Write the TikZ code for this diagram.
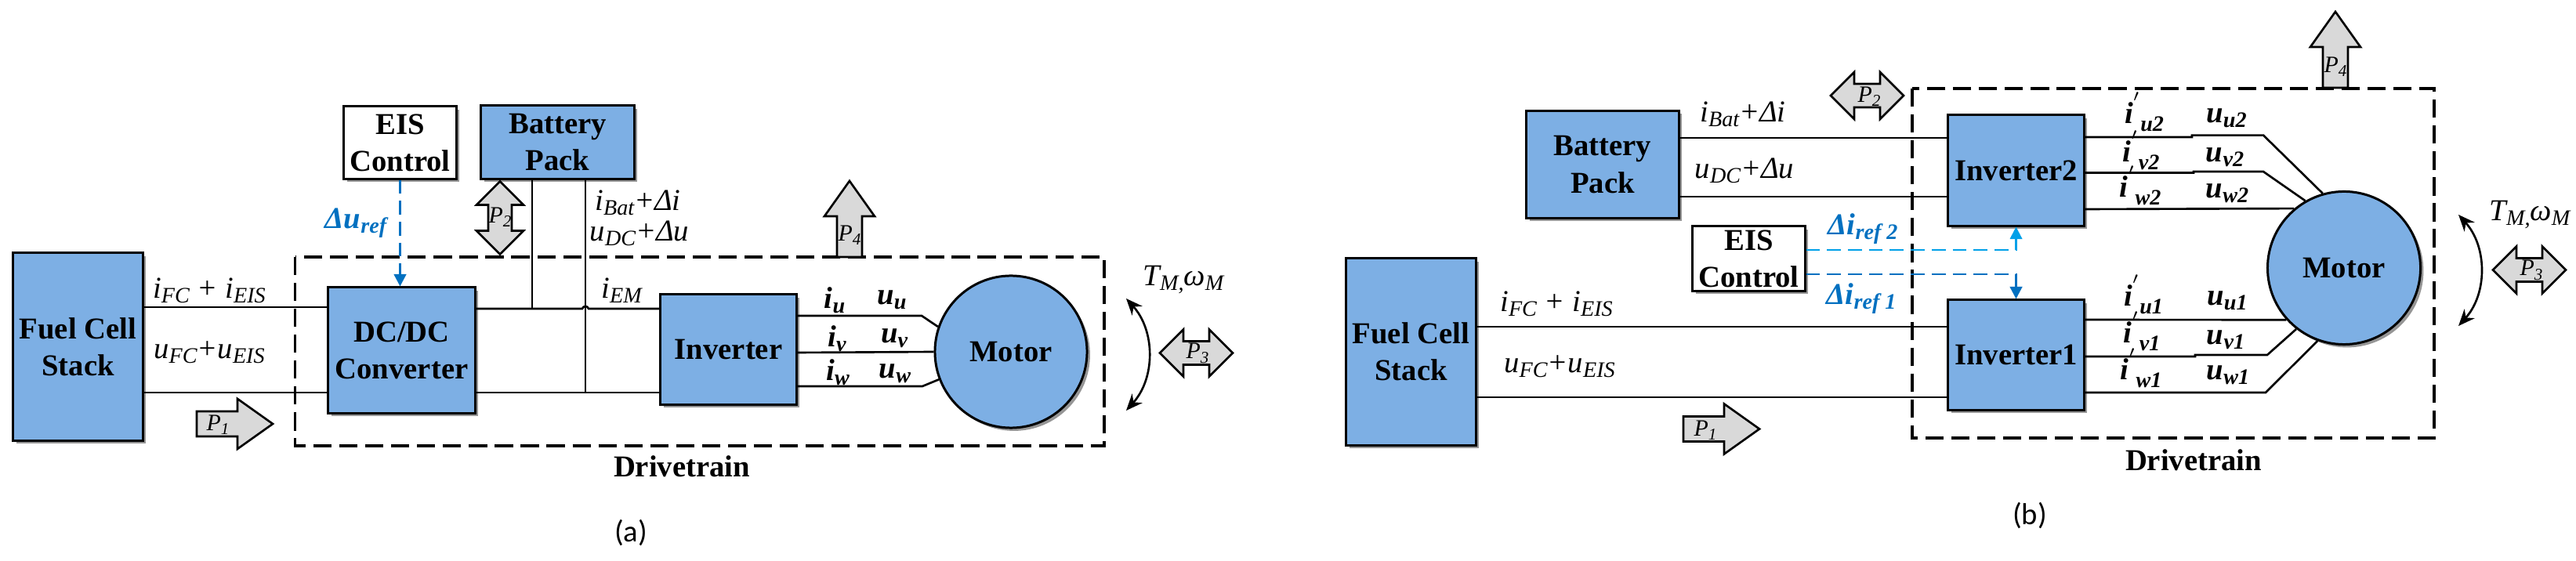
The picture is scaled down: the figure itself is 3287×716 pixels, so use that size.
\documentclass[tikz,border=0pt]{standalone}
\usepackage{fontspec}
\setmainfont{Liberation Serif}
\newfontfamily\capfont{Carlito}
\usetikzlibrary{arrows.meta,shadows}
\definecolor{blockblue}{RGB}{125,175,228}
\definecolor{refblue}{RGB}{0,112,192}
\definecolor{reflight}{RGB}{0,160,232}
\definecolor{powergray}{RGB}{217,217,217}
\newlength\taild
\newlength\flared
\newlength\shaftd
\setlength{\taild}{0.52cm}
\setlength{\flared}{0.16cm}
\setlength{\shaftd}{0.16cm}
\newcommand{\low}[1]{\raisebox{-.35ex}{\fontsize{8}{8}\selectfont #1}}
\newcommand{\plow}[1]{\raisebox{-.4ex}{\fontsize{6}{6}\selectfont #1}}
\newcommand{\iprime}[1]{\textit{i}\raisebox{1ex}{\fontsize{8}{8}\selectfont$'$}\raisebox{-.6ex}{\fontsize{8}{8}\selectfont #1}}
\newcommand{\powerarrow}[1]{
   \filldraw[powerbody]
   (O) ++(#1+90:\shaftd) --
   ++(#1:\taild) --
   ++(#1+90:\flared) --
   ++(#1-35.4:0.552cm) --
   ++(#1-144.6:0.552cm) --
   ++(#1+90:\flared) --
   ++(#1+180:\taild) -- cycle;
}
\newcommand{\powerdouble}[1]{
   \filldraw[powerbody]
   (O) ++(#1+90:0.15cm) ++(#1:0.165cm) --
   ++(#1+90:0.15cm) --
   ++(#1-45:0.424cm) --
   ++(#1-135:0.424cm) --
   ++(#1+90:0.15cm) --
   ++(#1+180:0.33cm) --
   ++(#1-90:0.15cm) --
   ++(#1+135:0.424cm) --
   ++(#1+45:0.424cm) --
   ++(#1-90:0.15cm) -- cycle;
}
\tikzset{
  boxshadow/.style={drop shadow={shadow xshift=1.1pt,shadow yshift=-1.1pt,fill=black!55,opacity=.75}},
  block/.style={draw,line width=.85pt,fill=blockblue,boxshadow,align=center,inner sep=0pt,
    font=\fontsize{11}{13.4}\bfseries\selectfont},
  eisbox/.style={block,fill=white},
  wire/.style={line width=.75pt},
  sigtext/.style={inner sep=0pt,font=\fontsize{11}{13}\itshape\selectfont},
  sigbold/.style={sigtext,font=\fontsize{11}{13}\bfseries\itshape\selectfont},
  reftext/.style={sigbold,text=refblue},
  plabel/.style={inner sep=0pt,font=\fontsize{8.5}{10}\itshape\selectfont},
  boldlabel/.style={inner sep=0pt,font=\fontsize{11}{13}\bfseries\selectfont},
  caplabel/.style={inner sep=0pt,font=\fontsize{11}{13}\capfont\selectfont},
  powerbody/.style={draw,line width=.75pt,fill=powergray},
  drivebox/.style={draw,line width=.9pt,dash pattern=on 6.6pt off 2.8pt},
  refwire/.style={line width=.8pt,dash pattern=on 5pt off 2.6pt,-{Triangle[length=4.4pt,width=4.4pt]}},
  torque/.style={line width=.75pt,{Stealth[length=6pt,width=5pt]}-{Stealth[length=6pt,width=5pt]}}
}
\begin{document}
\begin{tikzpicture}[x=0.01cm,y=-0.01cm]
  \useasboundingbox (0,0) rectangle (3287,716);
  %Panel (a): the dashed box goes first so that the wires cross over it
  \draw[drivebox] (376.5,328) rectangle (1409,569);
  \node[block,minimum width=1.65cm,minimum height=2.39cm] (fca) at (99.5,442.5) {Fuel Cell\\Stack};
  \node[eisbox,minimum width=1.43cm,minimum height=0.92cm] (eisa) at (510.5,182) {EIS\\Control};
  \node[block,minimum width=1.95cm,minimum height=0.93cm] (bata) at (711.5,181.5) {Battery\\Pack};
  \node[block,minimum width=1.87cm,minimum height=1.60cm] (dca) at (512.5,447) {DC/DC\\Converter};
  \node[block,minimum width=1.73cm,minimum height=1.40cm] (inva) at (929.5,446) {Inverter};
  \node[block,circle,minimum size=1.94cm] (mota) at (1290,449) {Motor};
  \coordinate (ya1) at (0,392);
  \coordinate (ya2) at (0,394);
  \coordinate (ya3) at (0,501);
  \coordinate (xa1) at (679,0);
  \coordinate (xa2) at (747,0);
  \draw[wire] (fca.east |- ya1) -- (dca.west |- ya1);
  \draw[wire] (fca.east |- ya3) -- (dca.west |- ya3);
  \draw[wire] (dca.east |- ya2) -- (743,394) .. controls (744,390) and (750,390) .. (751,394) -- (inva.west |- ya2);
  \draw[wire] (dca.east |- ya3) -- (inva.west |- ya3);
  \draw[wire] (bata.south -| xa1) -- (xa1 |- ya2);
  \draw[wire] (bata.south -| xa2) -- (xa2 |- ya3);
  \draw[refwire,refblue] (eisa.south) -- (eisa.south |- dca.north);
  \draw[wire] (inva.east |- 0,403) -- (1176,403) -- (mota.161);
  \draw[wire] (inva.east |- 0,450) -- (mota.180);
  \draw[wire] (inva.east |- 0,493) -- (1177,493) -- (mota.201);
  \coordinate (torqa1) at (1437,381);
  \coordinate (torqa2) at (1437,524);
  \draw[torque] (torqa1) to[bend left=42] (torqa2);
  %Power arrows of panel (a)
  \coordinate (O) at (251,541); \powerarrow{0}
  \coordinate (O) at (1084,328); \powerarrow{90}
  \coordinate (O) at (638,278); \powerdouble{90}
  \coordinate (O) at (1526.5,450.5); \powerdouble{0}
  \node[plabel] (p1a) at (278,542) {P\plow{1}};
  \node[plabel] (p2a) at (638,277) {P\plow{2}};
  \node[plabel] (p3a) at (1528,451) {P\plow{3}};
  \node[plabel] (p4a) at (1084,300) {P\plow{4}};
  %Signals of panel (a)
  \node[reftext] (refa) at (454,285) {Δu\low{ref}};
  \node[sigtext] (ifca) at (267,371) {i\low{FC} + i\low{EIS}};
  \node[sigtext] (ufca) at (267,450) {u\low{FC}+u\low{EIS}};
  \node[sigtext] (ibata) at (814,259) {i\low{Bat}+Δi};
  \node[sigtext] (udca) at (816,298) {u\low{DC}+Δu};
  \node[sigtext] (iema) at (793,371) {i\low{EM}};
  \node[sigbold] (iua) at (1065,383) {i\low{u}};
  \node[sigbold] (uua) at (1138,383) {u\low{u}};
  \node[sigbold] (iva) at (1068,432) {i\low{v}};
  \node[sigbold] (uva) at (1141,432) {u\low{v}};
  \node[sigbold] (iwa) at (1069,475) {i\low{w}};
  \node[sigbold] (uwa) at (1142,477) {u\low{w}};
  \node[sigtext] (tma) at (1510,357) {T\low{M,}ω\low{M}};
  \node[boldlabel] (dta) at (870,595) {Drivetrain};
  \node[caplabel] (capa) at (805,680) {(a)};

  %Panel (b)
  \draw[drivebox] (2440,113) rectangle (3106,559);
  \node[block,minimum width=1.65cm,minimum height=2.38cm] (fcb) at (1800.5,449) {Fuel Cell\\Stack};
  \node[block,minimum width=1.94cm,minimum height=1.37cm] (batb) at (2045,210) {Battery\\Pack};
  \node[eisbox,minimum width=1.43cm,minimum height=0.82cm] (eisb) at (2231.5,330) {EIS\\Control};
  \node[block,minimum width=1.73cm,minimum height=1.41cm] (inv2) at (2572.5,217.5) {Inverter2};
  \node[block,minimum width=1.73cm,minimum height=1.40cm] (inv1) at (2572.5,453) {Inverter1};
  \node[block,circle,minimum size=1.95cm] (motb) at (2991,342) {Motor};
  \coordinate (yb1) at (0,176);
  \coordinate (yb2) at (0,251);
  \coordinate (yb3) at (0,417);
  \coordinate (yb4) at (0,507);
  \draw[wire] (batb.east |- yb1) -- (inv2.west |- yb1);
  \draw[wire] (batb.east |- yb2) -- (inv2.west |- yb2);
  \draw[wire] (fcb.east |- yb3) -- (inv1.west |- yb3);
  \draw[wire] (fcb.east |- yb4) -- (inv1.west |- yb4);
  \draw[refwire,reflight,line width=.6pt] (eisb.east |- 0,319) -- (inv2.south |- 0,319) -- (inv2.south);
  \draw[refwire,refblue] (eisb.east |- 0,350) -- (inv1.north |- 0,350) -- (inv1.north);
  \draw[wire] (inv2.east |- 0,175) -- (2797,175) -- (2797,172.6) -- (2888,172.6) -- (motb.106);
  \draw[wire] (inv2.east |- 0,220.5) -- (2799,220.5) -- (2799,219) -- (2888,219) -- (motb.120);
  \draw[wire] (inv2.east |- 0,267) -- (motb.130);
  \draw[wire] (inv1.east |- 0,408) -- (motb.222);
  \draw[wire] (inv1.east |- 0,455) -- (2801,455) -- (2801,453) -- (2893,453) -- (motb.232);
  \draw[wire] (inv1.east |- 0,501) -- (2891,501) -- (motb.250);
  \coordinate (torqb1) at (3137,274);
  \coordinate (torqb2) at (3137,416);
  \draw[torque] (torqb1) to[bend left=42] (torqb2);
  %Power arrows of panel (b)
  \coordinate (O) at (2148,547.5); \powerarrow{0}
  \coordinate (O) at (2980,112); \powerarrow{90}
  \coordinate (O) at (2382.5,122); \powerdouble{0}
  \coordinate (O) at (3227.5,344.5); \powerdouble{0}
  \node[plabel] (p1b) at (2176,549) {P\plow{1}};
  \node[plabel] (p2b) at (2385,123) {P\plow{2}};
  \node[plabel] (p3b) at (3230,345) {P\plow{3}};
  \node[plabel] (p4b) at (2980,85) {P\plow{4}};
  %Signals of panel (b)
  \node[sigtext] (ibatb) at (2224,146) {i\low{Bat}+Δi};
  \node[sigtext] (udcb) at (2226,218) {u\low{DC}+Δu};
  \node[sigtext] (ifcb) at (1986,388) {i\low{FC} + i\low{EIS}};
  \node[sigtext] (ufcb) at (1990,468) {u\low{FC}+u\low{EIS}};
  \node[reftext] (ref2) at (2377,292) {Δi\low{ref 2}};
  \node[reftext] (ref1) at (2375,381) {Δi\low{ref 1}};
  \foreach \name/\sub/\xi/\xu/\yi/\yu in {u2/u2/2736/2841/143/151,v2/v2/2732/2839/192/201,w2/w2/2731/2842/237/247,
      u1/u1/2735/2842/376/384,v1/v1/2733/2840/423/434,w1/w1/2732/2843/470/479}
  {
     \node[sigbold] (i\name) at (\xi,\yi) {\iprime{\sub}};
     \node[sigbold] (u\name) at (\xu,\yu) {u\low{\sub}};
  }
  \node[sigtext] (tmb) at (3228,274) {T\low{M,}ω\low{M}};
  \node[boldlabel] (dtb) at (2799,587) {Drivetrain};
  \node[caplabel] (capb) at (2590,658) {(b)};
\end{tikzpicture}
\end{document}
